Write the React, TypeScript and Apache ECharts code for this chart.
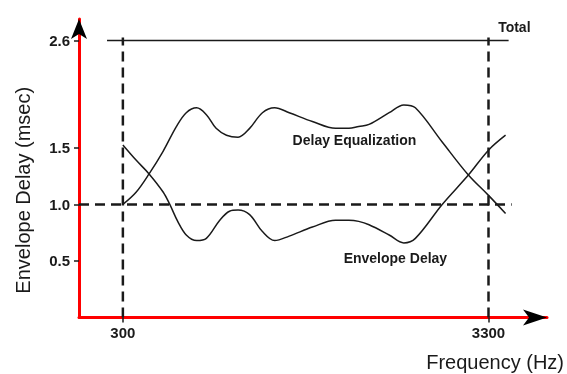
import React, { useEffect, useRef } from "react";
import * as echarts from "echarts";

// Frequency axis ticks (Hz) and delay axis ticks (msec)
const frequencyTicks = [300, 3300];
const delayTicks = [0.5, 1.0, 1.5, 2.6];

// Envelope Delay curve
const edFreq = [300, 410, 515, 630, 685, 750, 820, 905, 985, 1095, 1175, 1245, 1340, 1445, 1545, 1665, 1855, 2045, 2155, 2235, 2320, 2485, 2605, 2700, 2920, 3135, 3300, 3440];
const edDelay = [1.53, 1.39, 1.27, 1.11, 1.0, 0.85, 0.73, 0.68, 0.7, 0.86, 0.94, 0.95, 0.91, 0.76, 0.68, 0.72, 0.8, 0.86, 0.86, 0.85, 0.82, 0.73, 0.66, 0.7, 1.0, 1.26, 1.48, 1.63];

// Delay Equalization curve
const deFreq = [300, 410, 515, 630, 740, 820, 905, 985, 1065, 1150, 1245, 1340, 1445, 1545, 1665, 1855, 2045, 2155, 2235, 2320, 2485, 2605, 2700, 2920, 3135, 3300, 3440];
const deDelay = [1.0, 1.11, 1.27, 1.47, 1.72, 1.86, 1.91, 1.84, 1.7, 1.63, 1.61, 1.7, 1.86, 1.91, 1.86, 1.77, 1.7, 1.7, 1.72, 1.74, 1.86, 1.94, 1.91, 1.56, 1.26, 1.08, 0.92];

// Total delay line and reference lines
const totalDelay = 2.6;
const totalSpan = [170, 3465];
const referenceDelay = 1.0;
const referenceSpan = [-60, 3490];
const passbandEdges = [300, 3300];
const passbandTop = 2.63;

// The drawn scale is compressed above 1.5 msec
const BREAK = 1.5;
const K = 0.8645;
const yPos = (v: number) => (v <= BREAK ? v : BREAK + (v - BREAK) * K);

export default function App() {
  const ref = useRef<HTMLDivElement>(null);
  useEffect(() => {
    const chart = echarts.init(ref.current!, null, { renderer: "svg" });
    const font = "'Liberation Sans', Arial, Helvetica, sans-serif";
    const black = "#1a1a1a";
    const red = "#ff0000";
    const pair = (f: number[], d: number[]) => f.map((x, i) => [x, yPos(d[i])]);
    const annotation = (text: string, coord: number[]) => ({
      symbolSize: 0,
      silent: true,
      data: [{ coord: [coord[0], yPos(coord[1])], value: 0 }],
      label: {
        show: true,
        position: "inside",
        formatter: text,
        color: black,
        fontFamily: font,
        fontSize: 14,
        fontWeight: "bold",
      },
    });
    const dashed = { color: black, width: 2.5, type: [10, 6] as any };
    const tickVals = delayTicks.map(yPos);

    const series: any[] = [
      {
        type: "line",
        name: "Envelope Delay",
        data: pair(edFreq, edDelay),
        smooth: 0.35,
        symbol: "none",
        lineStyle: { color: black, width: 1.5 },
        markPoint: annotation("Envelope Delay", [2536, 0.522]),
      },
      {
        type: "line",
        name: "Delay Equalization",
        data: pair(deFreq, deDelay),
        smooth: 0.35,
        symbol: "none",
        lineStyle: { color: black, width: 1.5 },
        markPoint: annotation("Delay Equalization", [2200, 1.582]),
      },
      {
        type: "line",
        name: "Total",
        data: totalSpan.map((f) => [f, yPos(totalDelay)]),
        symbol: "none",
        lineStyle: { color: black, width: 1.5 },
        markPoint: annotation("Total", [3512, 2.739]),
      },
      {
        type: "line",
        name: "reference",
        data: referenceSpan.map((f) => [f, yPos(referenceDelay)]),
        symbol: "none",
        lineStyle: dashed,
        silent: true,
      },
      ...passbandEdges.map((f) => ({
        type: "line",
        name: "edge" + f,
        data: [
          [f, 0],
          [f, yPos(passbandTop)],
        ],
        symbol: "none",
        lineStyle: dashed,
        silent: true,
      })),
    ];

    chart.setOption({
      animation: false,
      grid: { left: 79, right: 18.5, top: 19, bottom: 56.5, containLabel: false },
      xAxis: [
        {
          type: "value",
          min: -60,
          max: 3780,
          position: "bottom",
          axisLine: { show: true, onZero: false, lineStyle: { color: red, width: 3 } },
          axisTick: { show: true, customValues: frequencyTicks, length: 5, lineStyle: { color: black, width: 1.5 } },
          axisLabel: {
            customValues: frequencyTicks,
            formatter: (v: number) => String(v),
            color: black,
            fontFamily: font,
            fontSize: 15,
            fontWeight: "bold",
            margin: 7,
          },
          splitLine: { show: false },
          name: "Frequency (Hz)",
          nameLocation: "end",
          nameGap: 17,
          nameTextStyle: {
            color: black,
            fontFamily: font,
            fontSize: 20,
            align: "right",
            verticalAlign: "top",
            padding: [34, 0, 0, 0],
          },
        },
        {
          type: "value",
          min: -60,
          max: 3780,
          position: "bottom",
          axisLine: {
            show: true,
            onZero: false,
            symbol: ["none", "arrow"],
            symbolSize: [12, 24],
            lineStyle: { color: "#000", width: 0 },
          },
          axisTick: { show: false },
          axisLabel: { show: false },
          splitLine: { show: false },
        },
      ],
      yAxis: [
        {
          type: "value",
          min: 0,
          max: 2.64,
          position: "left",
          axisLine: { show: true, onZero: false, lineStyle: { color: red, width: 3 } },
          axisTick: { show: true, customValues: tickVals, length: 5, lineStyle: { color: black, width: 1.5 } },
          axisLabel: {
            customValues: tickVals,
            formatter: (v: number) => {
              const i = tickVals.findIndex((t) => Math.abs(t - v) < 1e-6);
              return i >= 0 ? delayTicks[i].toFixed(1) : "";
            },
            color: black,
            fontFamily: font,
            fontSize: 15,
            fontWeight: "bold",
            margin: 9,
          },
          splitLine: { show: false },
          name: "Envelope Delay (msec)",
          nameLocation: "middle",
          nameGap: 46,
          nameTextStyle: {
            color: black,
            fontFamily: font,
            fontSize: 20,
            padding: [0, 44, 0, 0],
          },
        },
        {
          type: "value",
          min: 0,
          max: 2.64,
          position: "left",
          axisLine: {
            show: true,
            onZero: false,
            symbol: ["none", "arrow"],
            symbolSize: [12, 20],
            lineStyle: { color: "#000", width: 0 },
          },
          axisTick: { show: false },
          axisLabel: { show: false },
          splitLine: { show: false },
        },
      ],
      series,
    });
    return () => chart.dispose();
  }, []);
  return <div ref={ref} style={{ position: "fixed", left: 0, top: 0, width: 567, height: 374 }} />;
}
